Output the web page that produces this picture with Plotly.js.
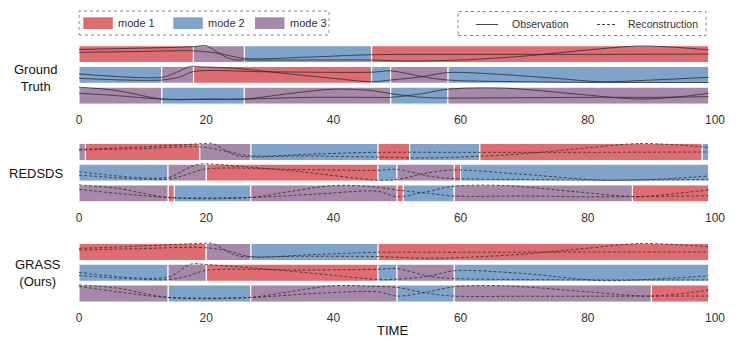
<!DOCTYPE html>
<html>
<head>
<meta charset="utf-8">
<script src="https://cdn.plot.ly/plotly-3.0.1.min.js"></script>
<style>html,body{margin:0;padding:0;background:#fff;}#chart{width:747px;height:341px;}</style>
</head>
<body>
<div id="chart"></div>
<script>
// ---------------- DATA ----------------
const TIME_TICKS = [0, 20, 40, 60, 80, 100];
const MODE_NAMES = ['mode 1', 'mode 2', 'mode 3'];
const PANEL_NAMES = ['Ground<br>Truth', 'REDSDS', 'GRASS<br>(Ours)'];
const LINE_NAMES = ['Observation', 'Reconstruction'];
const X_LABEL = 'TIME';

// segments: [start, end, mode]
const GT_SEG_1 = [[0,18,1],[18,26,3],[26,46,2],[46,99,1]];
const GT_SEG_2 = [[0,13,2],[13,18,3],[18,46,1],[46,49,2],[49,58,3],[58,99,2]];
const GT_SEG_3 = [[0,13,3],[13,26,2],[26,49,3],[49,58,2],[58,99,3]];
const RED_SEG_1 = [[0,1,3],[1,19,1],[19,27,3],[27,47,2],[47,52,1],[52,63,2],[63,98,1],[98,99,2]];
const RED_SEG_2 = [[0,14,2],[14,20,3],[20,47,1],[47,50,2],[50,59,3],[59,60,1],[60,99,2]];
const RED_SEG_3 = [[0,14,3],[14,15,1],[15,27,2],[27,50,3],[50,51,1],[51,59,2],[59,87,3],[87,99,1]];
const GRA_SEG_1 = [[0,20,1],[20,27,3],[27,47,2],[47,99,1]];
const GRA_SEG_2 = [[0,14,2],[14,20,3],[20,47,1],[47,50,2],[50,59,3],[59,99,2]];
const GRA_SEG_3 = [[0,14,3],[14,27,2],[27,50,3],[50,59,2],[59,90,3],[90,99,1]];

// signal values: [time, level within strip (0 = bottom, 1 = top)]
const GT_S1_A = [[0,0.78],[10,0.86],[18,0.94],[20,1.0],[22,0.55],[24,0.2],[26,0.16],[36,0.16],[46,0.16],[51,0.1],[60,0.16],[70,0.39],[80,0.75],[88,0.98],[94,0.9],[99,0.75]];
const GT_S1_B = [[0,0.61],[10,0.66],[18,0.7],[22,0.55],[26,0.25],[36,0.33],[46,0.47],[60,0.49],[80,0.49],[99,0.51]];
const GT_S2_A = [[0,0.56],[13,0.36],[15,0.6],[17.5,1.0],[19,0.98],[25,0.88],[32,0.6],[40,0.3],[46,0.1],[49,0.2],[54,0.4],[58,0.64],[65,0.56],[75,0.3],[82,0.1],[90,0.2],[99,0.36]];
const GT_S2_B = [[0,0.3],[13,0.2],[16,0.4],[18,0.7],[30,0.68],[46,0.66],[49,0.74],[54,0.4],[58,0.2],[70,0.1],[82,0.06],[99,0.06]];
const GT_S3_A = [[0,1.0],[6,0.8],[13,0.3],[20,0.3],[26,0.3],[33,0.62],[40,0.88],[46,0.8],[49,0.62],[54,0.4],[58,0.36],[70,0.38],[80,0.4],[90,0.4],[99,0.44]];
const GT_S3_B = [[0,0.64],[6,0.5],[13,0.3],[26,0.3],[36,0.4],[46,0.4],[49,0.4],[54,0.62],[58,0.88],[67,0.94],[78,0.6],[88,0.3],[94,0.42],[99,0.64]];

const RED_S1_A = [[0,0.65],[10,0.8],[19,0.98],[21,1.0],[23,0.6],[25,0.27],[35,0.27],[47,0.2],[55,0.15],[63,0.25],[70,0.4],[80,0.75],[88,1.0],[94,0.92],[99,0.77]];
const RED_S1_B = [[0,0.62],[10,0.7],[19,0.8],[23,0.55],[27,0.27],[37,0.38],[47,0.48],[60,0.48],[80,0.48],[99,0.5]];
const RED_S2_A = [[0,0.56],[14,0.22],[17,0.75],[19,1.0],[26,0.85],[35,0.55],[47,0.06],[50,0.1],[55,0.5],[59,0.66],[70,0.4],[82,0.06],[90,0.1],[99,0.3]];
const RED_S2_B = [[0,0.36],[14,0.12],[17,0.4],[20,0.72],[35,0.68],[47,0.64],[50,0.7],[55,0.3],[59,0.15],[70,0.1],[82,0.06],[99,0.1]];
const RED_S3_A = [[0,1.0],[6,0.8],[14,0.26],[27,0.26],[33,0.6],[40,0.96],[46,0.9],[50,0.7],[55,0.5],[59,0.34],[70,0.34],[80,0.3],[90,0.32],[99,0.36]];
const RED_S3_B = [[0,0.74],[6,0.5],[14,0.26],[27,0.26],[37,0.45],[47,0.62],[50,0.3],[54,0.55],[59,0.92],[67,0.96],[78,0.6],[88,0.3],[94,0.5],[99,0.7]];

const GRA_S1_A = [[0,0.71],[10,0.85],[19,1.0],[21,1.0],[23,0.6],[25,0.27],[35,0.25],[47,0.23],[55,0.13],[63,0.22],[70,0.38],[80,0.72],[88,1.0],[94,0.93],[99,0.8]];
const GRA_S1_B = [[0,0.62],[10,0.7],[19,0.77],[23,0.6],[27,0.23],[37,0.35],[47,0.48],[60,0.48],[80,0.5],[99,0.5]];
const GRA_S2_A = [[0,0.52],[14,0.24],[17.5,1.0],[20,0.98],[30,0.7],[40,0.35],[47,0.1],[50,0.12],[55,0.3],[59,0.62],[70,0.45],[82,0.04],[90,0.12],[99,0.32]];
const GRA_S2_B = [[0,0.34],[14,0.1],[17,0.3],[20,0.64],[35,0.66],[47,0.7],[50,0.74],[55,0.3],[59,0.16],[70,0.1],[82,0.08],[99,0.08]];
const GRA_S3_A = [[0,1.0],[6,0.82],[14,0.27],[27,0.27],[33,0.6],[40,0.96],[46,0.92],[50,0.86],[55,0.5],[59,0.35],[70,0.34],[80,0.34],[90,0.35],[99,0.35]];
const GRA_S3_B = [[0,0.92],[6,0.6],[14,0.27],[27,0.27],[37,0.5],[47,0.6],[50,0.35],[55,0.6],[59,0.9],[67,0.95],[80,0.6],[90,0.35],[99,0.7]];

// ---------------- STYLE ----------------
const MODE_COLORS = ['#DF6C71', '#7FA3CB', '#A688A9'];
const FONT = 'Liberation Sans, Arial, Helvetica, sans-serif';
const W = 747, H = 341, ML = 79, MR = 32;
const BAR_W = 0.82;
const STRIP_Y = [2, 1, 0];
const DOMAINS = [[0.6891, 0.8714], [0.4026, 0.5846], [0.1088, 0.2915]];

const panels = [
  {segs: [GT_SEG_1, GT_SEG_2, GT_SEG_3], lines: [[GT_S1_A, GT_S1_B], [GT_S2_A, GT_S2_B], [GT_S3_A, GT_S3_B]], dash: 'solid'},
  {segs: [RED_SEG_1, RED_SEG_2, RED_SEG_3], lines: [[RED_S1_A, RED_S1_B], [RED_S2_A, RED_S2_B], [RED_S3_A, RED_S3_B]], dash: '3px,2px'},
  {segs: [GRA_SEG_1, GRA_SEG_2, GRA_SEG_3], lines: [[GRA_S1_A, GRA_S1_B], [GRA_S2_A, GRA_S2_B], [GRA_S3_A, GRA_S3_B]], dash: '3px,2px'}
];

const traces = [];
panels.forEach((p, pi) => {
  const sfx = pi === 0 ? '' : String(pi + 1);
  for (let m = 1; m <= 3; m++) {
    const ys = [], bases = [], lens = [];
    p.segs.forEach((segList, si) => {
      segList.forEach(s => {
        if (s[2] === m) { ys.push(STRIP_Y[si]); bases.push(s[0]); lens.push(s[1] - s[0]); }
      });
    });
    traces.push({
      type: 'bar', orientation: 'h', y: ys, x: lens, base: bases, width: BAR_W,
      marker: {color: MODE_COLORS[m - 1], line: {color: 'rgba(255,255,255,0.9)', width: 1.2}},
      xaxis: 'x' + sfx, yaxis: 'y' + sfx, showlegend: false, hoverinfo: 'skip', name: MODE_NAMES[m - 1]
    });
  }
  p.lines.forEach((pair, si) => {
    pair.forEach(series => {
      traces.push({
        type: 'scatter', mode: 'lines',
        x: series.map(d => d[0]),
        y: series.map(d => STRIP_Y[si] - BAR_W / 2 + d[1] * BAR_W),
        line: {color: 'rgba(45,45,45,0.8)', width: 1, dash: p.dash, shape: 'spline', smoothing: 0.9},
        xaxis: 'x' + sfx, yaxis: 'y' + sfx, showlegend: false, hoverinfo: 'skip'
      });
    });
  });
});

const px = v => (v - ML) / (W - ML - MR);
const py = v => 1 - v / H;

const layout = {
  width: W, height: H,
  margin: {l: ML, r: MR, t: 0, b: 0},
  paper_bgcolor: '#fff', plot_bgcolor: '#fff',
  barmode: 'overlay', bargap: 0,
  font: {family: FONT, color: '#333'},
  showlegend: false,
  shapes: [], annotations: []
};
DOMAINS.forEach((d, i) => {
  const sfx = i === 0 ? '' : String(i + 1);
  layout['xaxis' + sfx] = {domain: [0, 1], range: [0, 100], anchor: 'y' + sfx, tickvals: TIME_TICKS,
    showgrid: false, zeroline: false, showline: false, ticks: '', ticklabelstandoff: 5,
    tickfont: {size: 12, color: '#333', family: FONT}, fixedrange: true};
  layout['yaxis' + sfx] = {domain: d, range: [-0.5, 2.5], anchor: 'x' + sfx, visible: false, fixedrange: true};
});

// legend boxes
layout.shapes.push({type: 'rect', xref: 'paper', yref: 'paper', x0: px(79), x1: px(329), y0: py(35), y1: py(11), line: {color: '#888', width: 1, dash: 'dot'}});
layout.shapes.push({type: 'rect', xref: 'paper', yref: 'paper', x0: px(458), x1: px(706), y0: py(35.5), y1: py(11.5), line: {color: '#888', width: 1, dash: 'dot'}});
const patchX = [83.3, 173.3, 255];
patchX.forEach((x, i) => {
  layout.shapes.push({type: 'rect', xref: 'paper', yref: 'paper', x0: px(x), x1: px(x + 29.5), y0: py(29), y1: py(17.3), fillcolor: MODE_COLORS[i], line: {width: 0}});
  layout.annotations.push({xref: 'paper', yref: 'paper', x: px(x + 32.5), y: py(23), text: MODE_NAMES[i], showarrow: false, xanchor: 'left', yanchor: 'middle', font: {size: 11, color: '#333', family: FONT}});
});
layout.shapes.push({type: 'line', xref: 'paper', yref: 'paper', x0: px(476), x1: px(498), y0: py(24.5), y1: py(24.5), line: {color: '#444', width: 1}});
layout.shapes.push({type: 'line', xref: 'paper', yref: 'paper', x0: px(597), x1: px(617), y0: py(24.5), y1: py(24.5), line: {color: '#444', width: 1, dash: '3px,2px'}});
layout.annotations.push({xref: 'paper', yref: 'paper', x: px(510), y: py(24), text: LINE_NAMES[0], showarrow: false, xanchor: 'left', yanchor: 'middle', font: {size: 10.5, color: '#333', family: FONT}});
layout.annotations.push({xref: 'paper', yref: 'paper', x: px(626), y: py(24), text: LINE_NAMES[1], showarrow: false, xanchor: 'left', yanchor: 'middle', font: {size: 10.5, color: '#333', family: FONT}});

// panel labels
const labelPos = [[35, 77.5], [36, 173], [38, 273]];
PANEL_NAMES.forEach((t, i) => {
  layout.annotations.push({xref: 'paper', yref: 'paper', x: px(labelPos[i][0]), y: py(labelPos[i][1]), text: t, showarrow: false, xanchor: 'center', yanchor: 'middle', align: 'center', font: {size: 13, color: '#111', family: FONT}});
});
layout.annotations.push({xref: 'paper', yref: 'paper', x: px(392), y: py(330), text: X_LABEL, showarrow: false, xanchor: 'center', yanchor: 'middle', font: {size: 13, color: '#111', family: FONT}});

Plotly.newPlot('chart', traces, layout, {staticPlot: true, displayModeBar: false});
</script>
</body>
</html>
